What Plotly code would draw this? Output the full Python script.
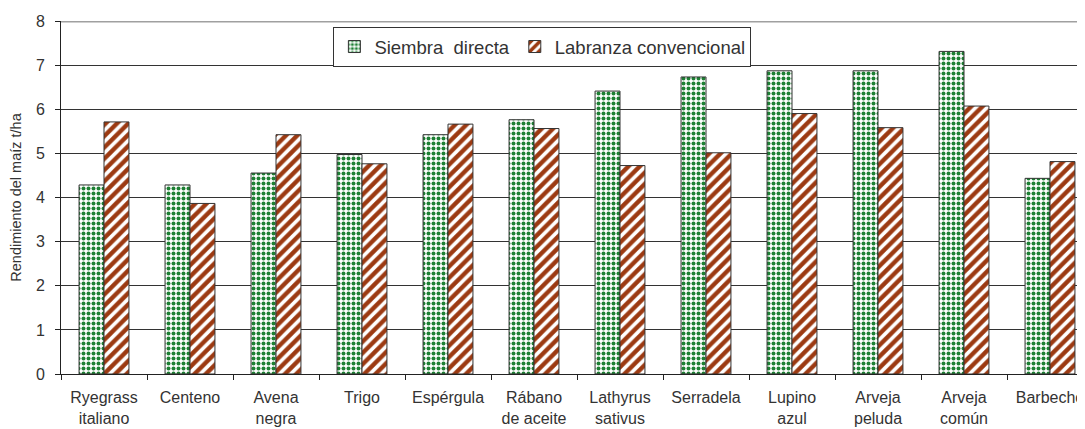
import plotly.graph_objects as go

categories = ["Ryegrass<br>italiano", "Centeno", "Avena<br>negra", "Trigo", "Espérgula",
              "Rábano<br>de aceite", "Lathyrus<br>sativus", "Serradela", "Lupino<br>azul",
              "Arveja<br>peluda", "Arveja<br>común", "Barbecho"]
siembra_directa = [4.29, 4.29, 4.56, 4.98, 5.43, 5.77, 6.42, 6.74, 6.88, 6.88, 7.32, 4.44]
labranza_convencional = [5.72, 3.87, 5.43, 4.77, 5.67, 5.57, 4.73, 5.02, 5.91, 5.59, 6.08, 4.82]
y_ticks = [0, 1, 2, 3, 4, 5, 6, 7, 8]

fig = go.Figure()
fig.add_trace(go.Bar(
    x=categories, y=siembra_directa, name="Siembra  directa",
    marker=dict(color="white", line=dict(color="#333333", width=1),
                pattern=dict(shape=".", fgcolor="#1E8034", bgcolor="white", size=5,
                             solidity=0.5, fgopacity=1)),
))
fig.add_trace(go.Bar(
    x=categories, y=labranza_convencional, name="Labranza convencional",
    marker=dict(color="white", line=dict(color="#333333", width=1),
                pattern=dict(shape="/", fgcolor="#9C3A12", bgcolor="white", size=8,
                             solidity=0.55, fgopacity=1)),
))

# top border line at the highest tick (as in the reference)
fig.add_hline(y=y_ticks[-1], line=dict(color="#A0A0A0", width=2), layer="below")

fig.update_layout(
    width=1085, height=429,
    margin=dict(l=53, r=8, t=13, b=63, autoexpand=False),
    paper_bgcolor="white", plot_bgcolor="white",
    barmode="group", bargap=0.42, bargroupgap=0,
    font=dict(family="Liberation Sans, Arial, sans-serif", color="#333333", size=16),
    showlegend=True,
    legend=dict(orientation="h", x=0.266, y=0.983, xanchor="left", yanchor="top",
                bordercolor="#333333", borderwidth=1, bgcolor="white",
                font=dict(size=18.5), itemwidth=30, tracegroupgap=0),
    xaxis=dict(range=[-0.5, 11.407], showline=True, linecolor="#222222", linewidth=1,
               ticks="outside", tickson="boundaries", ticklen=5, tickcolor="#222222",
               tickfont=dict(size=16), showgrid=False, automargin=False,
               ticklabelstandoff=9),
    yaxis=dict(range=[0, 8.01], tickvals=y_ticks, showline=True, linecolor="#222222", linewidth=1,
               ticks="outside", ticklen=5, tickcolor="#222222", tickfont=dict(size=16),
               showgrid=True, gridcolor="#333333", gridwidth=1, zeroline=False, automargin=False,
               ticklabelstandoff=7,
               title=dict(text="Rendimiento del maíz t/ha", font=dict(size=14.5), standoff=10)),
)

fig.write_html("out.html")
